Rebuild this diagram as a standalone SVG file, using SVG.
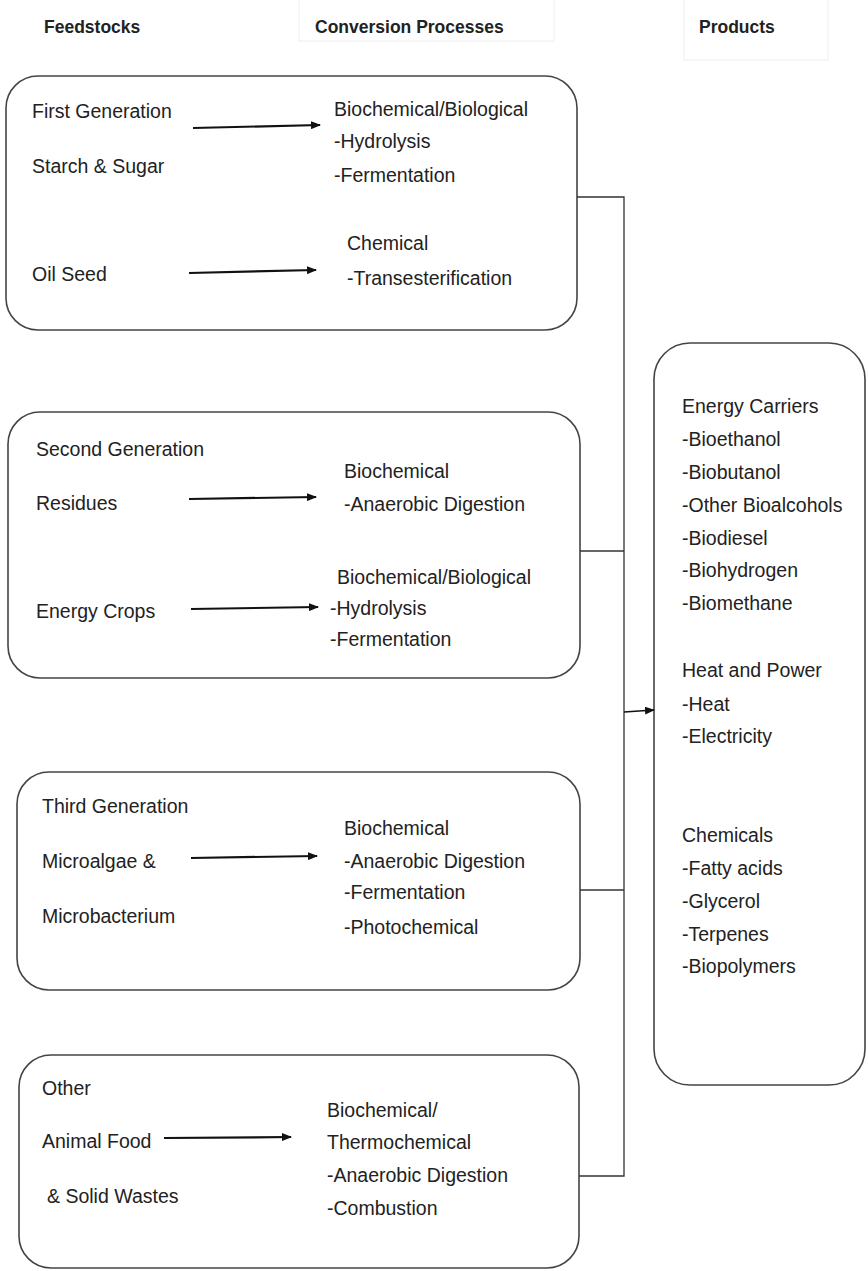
<svg xmlns="http://www.w3.org/2000/svg" width="868" height="1271" viewBox="0 0 868 1271">
<defs>
<marker id="ah" markerWidth="10" markerHeight="8" refX="9" refY="4" orient="auto" markerUnits="userSpaceOnUse">
<path d="M0,0 L10,4 L0,8 Z" fill="#111"/>
</marker>
<style>
text{font-family:"Liberation Sans",Arial,sans-serif;font-size:19.5px;fill:#222}
.hd{font-size:17.5px;font-weight:bold}
.box{fill:#fff;stroke:#444;stroke-width:1.6}
.hbox{fill:none;stroke:#f4f4f4;stroke-width:1.5}
.arr{stroke:#111;stroke-width:2.2;fill:none;marker-end:url(#ah)}
.con{stroke:#333;stroke-width:1.3;fill:none}
</style>
</defs>
<rect width="868" height="1271" fill="#fff"/>
<g id="headers">
<rect class="hbox" x="299" y="-2" width="255" height="43"/>
<rect class="hbox" x="684" y="-2" width="144" height="62"/>
<text class="hd" x="44" y="33">Feedstocks</text>
<text class="hd" x="315" y="33">Conversion Processes</text>
<text class="hd" x="699" y="33">Products</text>
</g>
<g id="first-generation">
<rect class="box" x="6" y="76" width="571" height="254" rx="32"/>
<text x="32" y="118">First Generation</text>
<text x="32" y="173">Starch &amp; Sugar</text>
<text x="32" y="281">Oil Seed</text>
<text x="334" y="116">Biochemical/Biological</text>
<text x="334" y="148">-Hydrolysis</text>
<text x="334" y="182">-Fermentation</text>
<text x="347" y="250">Chemical</text>
<text x="347" y="285">-Transesterification</text>
<path class="arr" d="M193,128 L320,125"/>
<path class="arr" d="M189,273 L316,270"/>
</g>
<g id="second-generation">
<rect class="box" x="8" y="412" width="572" height="266" rx="32"/>
<text x="36" y="456">Second Generation</text>
<text x="36" y="510">Residues</text>
<text x="36" y="618">Energy Crops</text>
<text x="344" y="478">Biochemical</text>
<text x="344" y="511">-Anaerobic Digestion</text>
<text x="337" y="584">Biochemical/Biological</text>
<text x="330" y="615">-Hydrolysis</text>
<text x="330" y="646">-Fermentation</text>
<path class="arr" d="M189,499 L316,497"/>
<path class="arr" d="M191,609 L318,607"/>
</g>
<g id="third-generation">
<rect class="box" x="17" y="772" width="563" height="218" rx="32"/>
<text x="42" y="813">Third Generation</text>
<text x="42" y="868">Microalgae &amp;</text>
<text x="42" y="923">Microbacterium</text>
<text x="344" y="835">Biochemical</text>
<text x="344" y="868">-Anaerobic Digestion</text>
<text x="344" y="899">-Fermentation</text>
<text x="344" y="934">-Photochemical</text>
<path class="arr" d="M191,858 L317,856"/>
</g>
<g id="other">
<rect class="box" x="19" y="1055" width="560" height="213" rx="32"/>
<text x="42" y="1095">Other</text>
<text x="42" y="1148">Animal Food</text>
<text x="47" y="1203">&amp; Solid Wastes</text>
<text x="327" y="1117">Biochemical/</text>
<text x="327" y="1149">Thermochemical</text>
<text x="327" y="1182">-Anaerobic Digestion</text>
<text x="327" y="1215">-Combustion</text>
<path class="arr" d="M164,1138 L291,1137"/>
</g>
<g id="products">
<rect class="box" x="654" y="343" width="211" height="742" rx="36"/>
<text x="682" y="413">Energy Carriers</text>
<text x="682" y="446">-Bioethanol</text>
<text x="682" y="479">-Biobutanol</text>
<text x="682" y="512">-Other Bioalcohols</text>
<text x="682" y="545">-Biodiesel</text>
<text x="682" y="577">-Biohydrogen</text>
<text x="682" y="610">-Biomethane</text>
<text x="682" y="677">Heat and Power</text>
<text x="682" y="711">-Heat</text>
<text x="682" y="743">-Electricity</text>
<text x="682" y="842">Chemicals</text>
<text x="682" y="875">-Fatty acids</text>
<text x="682" y="908">-Glycerol</text>
<text x="682" y="941">-Terpenes</text>
<text x="682" y="973">-Biopolymers</text>
</g>
<g id="connectors">
<path class="con" d="M577,197 H624 V1176 H579"/>
<path class="con" d="M580,551 H624"/>
<path class="con" d="M580,890 H624"/>
<path class="arr" style="stroke-width:1.6" d="M624,712 L654,710"/>
</g>
</svg>
